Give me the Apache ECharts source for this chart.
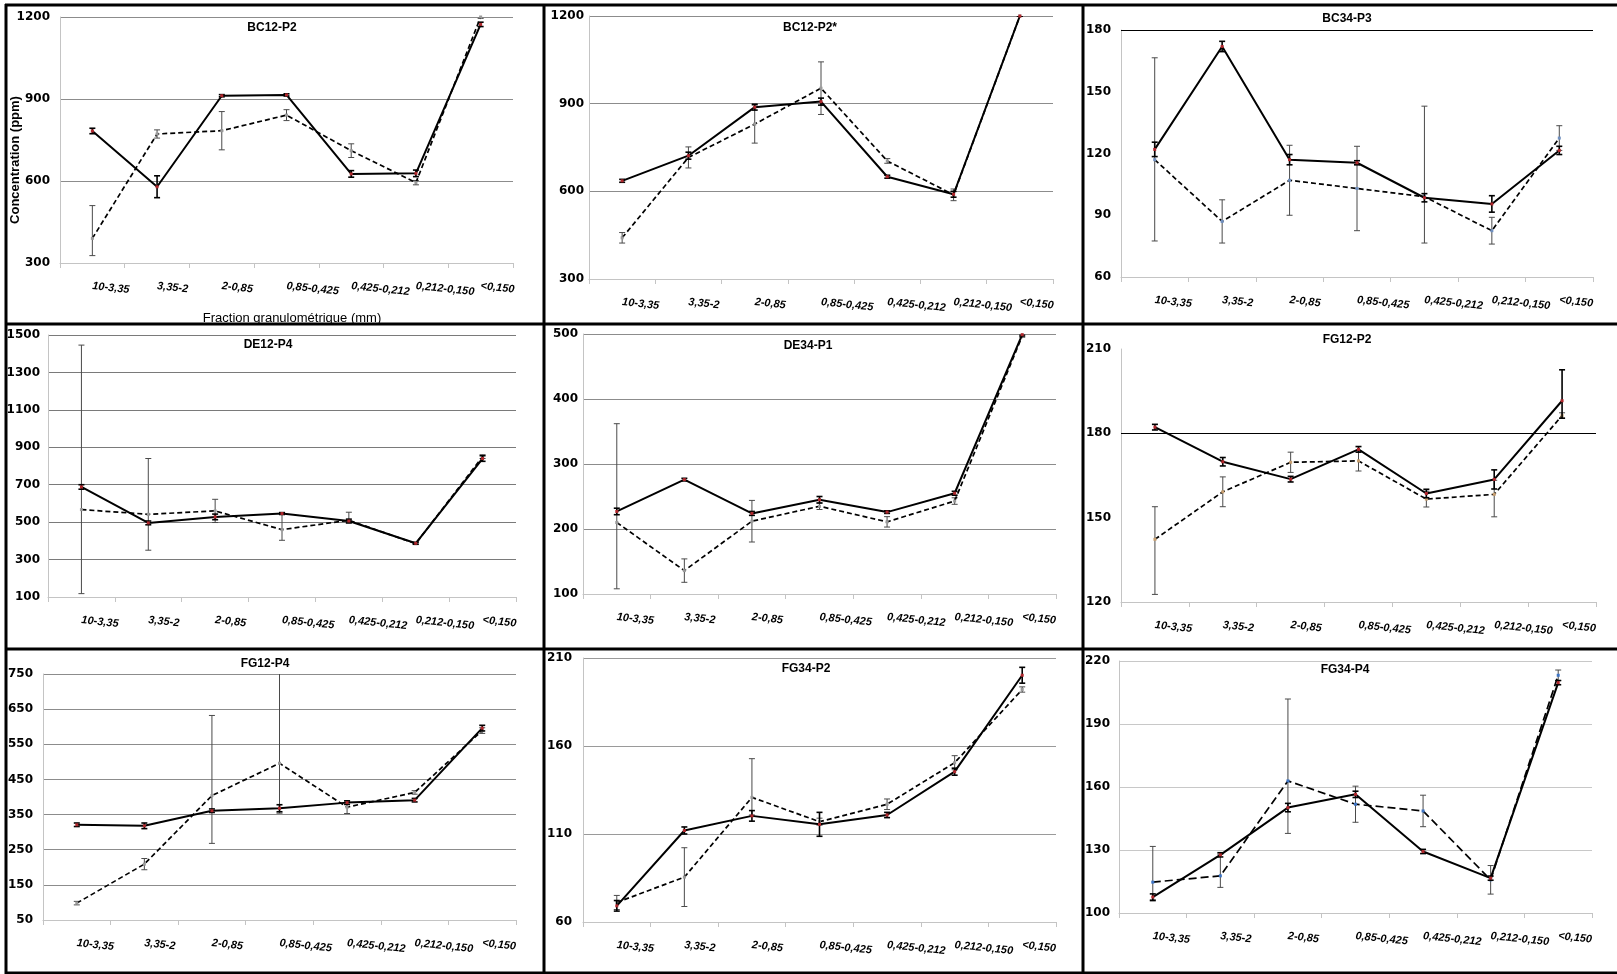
<!DOCTYPE html>
<html>
<head>
<meta charset="utf-8">
<script src="https://cdn.jsdelivr.net/npm/echarts@6/dist/echarts.min.js"></script>
<style>
  html, body { margin: 0; padding: 0; background: #fff; }
  #chart { width: 1617px; height: 974px; }
</style>
</head>
<body>
<div id="chart"></div>
<script>
// Size fractions (mm)
const categories = ['10-3,35', '3,35-2', '2-0,85', '0,85-0,425', '0,425-0,212', '0,212-0,150', '<0,150'];

// Each profile: solid series, dashed series and their error bars (half-width, or [below, above])
// Ranges are [min, max, interval] of the concentration axis (ppm)
const bc12p2Range = [300, 1200, 300];
const bc12p2Solid = [783, 579, 912, 915, 626, 628, 1173];
const bc12p2SolidErr = [10, 40, 4, 4, 12, 12, 8];
const bc12p2Dashed = [390, 772, 784, 841, 711, 594, 1200];
const bc12p2DashedErr = [[63, 120], 15, 70, 20, 25, 8, 5];

const bc12p2sRange = [300, 1200, 300];
const bc12p2sSolid = [636, 722, 888, 907, 650, 590, 1200];
const bc12p2sSolidErr = [5, 12, 10, 12, 5, 10, 0];
const bc12p2sDashed = [441, 716, 830, 953, 704, 588, 1200];
const bc12p2sDashedErr = [18, 36, 65, 90, 8, 20, 0];

const bc34p3Range = [60, 180, 30];
const bc34p3Solid = [122, 172, 117, 115.5, 98.5, 95.5, 121.5];
const bc34p3SolidErr = [3.5, 2.5, 2.5, 1, 2, 4, 2];
const bc34p3Dashed = [117, 87, 107, 103, 99, 82.5, 127.5];
const bc34p3DashedErr = [[39.5, 49.5], 10.5, 17, 20.5, [22.5, 44], 6.5, 6];

const de12p4Range = [100, 1500, 200];
const de12p4Solid = [688, 496, 528, 546, 506, 387, 840];
const de12p4SolidErr = [12, 10, 15, 5, 10, 5, 15];
const de12p4Dashed = [567, 542, 560, 460, 510, 385, 850];
const de12p4DashedErr = [[449, 879], [192, 298], 62, [57, 86], [14, 43], 5, 10];

const de34p1Range = [100, 500, 100];
const de34p1Solid = [227, 276, 224, 245, 226, 255, 499];
const de34p1SolidErr = [5, 2, 3, 5, 2, 3, 2];
const de34p1Dashed = [210, 136, 212, 235, 211, 243, 497];
const de34p1DashedErr = [[102, 152], 18, 32, 5, 8, 5, 2];

const fg12p2Range = [120, 210, 30];
const fg12p2Solid = [182.2, 169.9, 163.7, 174.3, 158.6, 163.6, 191.6];
const fg12p2SolidErr = [1, 1.5, 1, 1, 1.5, 3.4, [6.2, 11]];
const fg12p2Dashed = [142.3, 159.2, 169.7, 170.2, 156.6, 158.3, 186.3];
const fg12p2DashedErr = [[19.6, 11.6], 5.3, 3.6, 3.6, 2.8, [8, 5], 1];

const fg12p4Range = [50, 750, 100];
const fg12p4Solid = [321, 318, 361, 368, 384, 391, 596];
const fg12p4SolidErr = [5, 8, 5, 10, 5, 5, 8];
const fg12p4Dashed = [98, 209, 404, 496, 371, 413, 589];
const fg12p4DashedErr = [5, 16, [136, 228], [142, 300], 18, 5, 8];

const fg34p2Range = [60, 210, 50];
const fg34p2Solid = [69.2, 112, 120.3, 115.5, 120.8, 145.4, 200.2];
const fg34p2SolidErr = [3, 2, 3, 6.8, 1.5, 2, 4.5];
const fg34p2Dashed = [71.1, 85.5, 130.8, 117, 126.9, 150.5, 192.1];
const fg34p2DashedErr = [4, 16.7, [10, 22], 2, 3, 4, 1.5];

const fg34p4Range = [100, 220, 30];
const fg34p4Solid = [107.6, 127.7, 150.2, 156.5, 129.3, 116.6, 209.7];
const fg34p4SolidErr = [1.5, 1, 2, 1.5, 1, 1, 1];
const fg34p4Dashed = [114.7, 117.7, 162.9, 151.8, 148.6, 115.8, 213.2];
const fg34p4DashedErr = [[9, 17], [5.5, 10.3], [25, 39], 8.6, 7.5, 6.8, 2.5];

// Panel layout: plot box [left, top, width, height], title centre, label gap, grid line colour
const panels = [
  { title: 'BC12-P2', range: bc12p2Range, solid: bc12p2Solid, solidErr: bc12p2SolidErr, dashed: bc12p2Dashed, dashedErr: bc12p2DashedErr,
    box: [60, 17, 453, 246], titleAt: [272, 28], gap: 10, split: '#8c8c8c', dashMark: '#9a9a9a', dash: [5, 3] },
  { title: 'BC12-P2*', range: bc12p2sRange, solid: bc12p2sSolid, solidErr: bc12p2sSolidErr, dashed: bc12p2sDashed, dashedErr: bc12p2sDashedErr,
    box: [589, 16, 464, 263], titleAt: [810, 28], gap: 5, split: '#8c8c8c', dashMark: '#9a9a9a', dash: [5, 3] },
  { title: 'BC34-P3', range: bc34p3Range, solid: bc34p3Solid, solidErr: bc34p3SolidErr, dashed: bc34p3Dashed, dashedErr: bc34p3DashedErr,
    box: [1121, 30, 472, 247], titleAt: [1347, 19], gap: 10, split: null, refLine: 180, dashMark: '#6f8fbf', dash: [5, 3] },
  { title: 'DE12-P4', range: de12p4Range, solid: de12p4Solid, solidErr: de12p4SolidErr, dashed: de12p4Dashed, dashedErr: de12p4DashedErr,
    box: [48, 335, 468, 262], titleAt: [268, 345], gap: 8, split: '#7a7a7a', dashMark: '#9a9a9a', dash: [5, 3] },
  { title: 'DE34-P1', range: de34p1Range, solid: de34p1Solid, solidErr: de34p1SolidErr, dashed: de34p1Dashed, dashedErr: de34p1DashedErr,
    box: [583, 334, 473, 260], titleAt: [808, 346], gap: 5, split: '#8c8c8c', dashMark: '#9a9a9a', dash: [5, 3] },
  { title: 'FG12-P2', range: fg12p2Range, solid: fg12p2Solid, solidErr: fg12p2SolidErr, dashed: fg12p2Dashed, dashedErr: fg12p2DashedErr,
    box: [1121, 349, 475, 253], titleAt: [1347, 340], gap: 10, split: null, refLine: 180, dashMark: '#c9a070', dash: [5, 3] },
  { title: 'FG12-P4', range: fg12p4Range, solid: fg12p4Solid, solidErr: fg12p4SolidErr, dashed: fg12p4Dashed, dashedErr: fg12p4DashedErr,
    box: [43, 674, 473, 246], titleAt: [265, 664], gap: 10, split: '#8c8c8c', dashMark: '#9a9a9a', dash: [5, 3] },
  { title: 'FG34-P2', range: fg34p2Range, solid: fg34p2Solid, solidErr: fg34p2SolidErr, dashed: fg34p2Dashed, dashedErr: fg34p2DashedErr,
    box: [583, 658, 473, 264], titleAt: [806, 669], gap: 11, split: '#9a9a9a', dashMark: '#9a9a9a', dash: [5, 3] },
  { title: 'FG34-P4', range: fg34p4Range, solid: fg34p4Solid, solidErr: fg34p4SolidErr, dashed: fg34p4Dashed, dashedErr: fg34p4DashedErr,
    box: [1119, 661, 473, 252], titleAt: [1345, 670], gap: 9, split: '#c8c8c8', dashMark: '#3d74c4', dash: [8, 4] }
];

// [category index, lower bound, upper bound] for each error bar
function barData(values, errs) {
  return values.map((v, k) => {
    const e = errs[k];
    const down = Array.isArray(e) ? e[0] : e;
    const up = Array.isArray(e) ? e[1] : e;
    return [k, v - down, v + up];
  });
}

function errorBar(color, width) {
  return function (params, api) {
    const x = api.value(0);
    const lo = api.coord([x, api.value(1)]);
    const hi = api.coord([x, api.value(2)]);
    const cap = 3;
    const style = { stroke: color, lineWidth: width };
    return {
      type: 'group',
      children: [
        { type: 'line', shape: { x1: lo[0], y1: lo[1], x2: hi[0], y2: hi[1] }, style: style },
        { type: 'line', shape: { x1: lo[0] - cap, y1: lo[1], x2: lo[0] + cap, y2: lo[1] }, style: style },
        { type: 'line', shape: { x1: hi[0] - cap, y1: hi[1], x2: hi[0] + cap, y2: hi[1] }, style: style }
      ]
    };
  };
}

const grids = [], xAxes = [], yAxes = [], series = [], graphics = [];

panels.forEach((p, i) => {
  grids.push({ left: p.box[0], top: p.box[1], width: p.box[2], height: p.box[3], containLabel: false, outerBoundsMode: 'none' });

  xAxes.push({
    type: 'category', gridIndex: i, data: categories, boundaryGap: true,
    axisLine: { show: true, lineStyle: { color: '#c4c4c4', width: 1 } },
    axisTick: { show: true, alignWithLabel: false, inside: false, length: 5, lineStyle: { color: '#c4c4c4' } },
    axisLabel: {
      interval: 0, rotate: -6, margin: 23, color: '#000',
      fontFamily: '"Liberation Sans", Arial, sans-serif', fontSize: 11, fontWeight: 'bold', fontStyle: 'italic'
    },
    splitLine: { show: false }
  });

  yAxes.push({
    type: 'value', gridIndex: i, min: p.range[0], max: p.range[1], interval: p.range[2],
    axisLine: { show: true, lineStyle: { color: '#c4c4c4', width: 1 } },
    axisTick: { show: false },
    axisLabel: {
      margin: p.gap, color: '#000', fontFamily: '"DejaVu Sans", sans-serif', fontSize: 12, fontWeight: 'bold',
      formatter: v => String(v)
    },
    splitLine: { show: !!p.split, lineStyle: { color: p.split || '#888', width: 1 } }
  });

  series.push({
    type: 'custom', xAxisIndex: i, yAxisIndex: i, clip: true, silent: true, z: 2,
    renderItem: errorBar('#4a4a4a', 1), encode: { x: 0, y: [1, 2] },
    data: barData(p.dashed, p.dashedErr)
  });
  series.push({
    type: 'line', xAxisIndex: i, yAxisIndex: i, data: p.dashed, z: 3,
    symbol: 'rect', symbolSize: 3, showSymbol: true,
    lineStyle: { color: '#000', width: 1.7, type: p.dash },
    itemStyle: { color: p.dashMark }
  });
  series.push({
    type: 'custom', xAxisIndex: i, yAxisIndex: i, clip: true, silent: true, z: 4,
    renderItem: errorBar('#000', 1.6), encode: { x: 0, y: [1, 2] },
    data: barData(p.solid, p.solidErr)
  });
  const solidLine = {
    type: 'line', xAxisIndex: i, yAxisIndex: i, data: p.solid, z: 5,
    symbol: 'rect', symbolSize: 3, showSymbol: true,
    lineStyle: { color: '#000', width: 2 },
    itemStyle: { color: '#b0282d' }
  };
  if (p.refLine !== undefined) {
    solidLine.markLine = {
      silent: true, symbol: 'none', label: { show: false },
      lineStyle: { color: '#000', width: 1, type: 'solid' },
      data: [{ yAxis: p.refLine }]
    };
  }
  series.push(solidLine);

  graphics.push({
    type: 'text', x: p.titleAt[0], y: p.titleAt[1], z: 50,
    style: { text: p.title, fill: '#000', font: 'bold 12px "Liberation Sans", Arial, sans-serif', align: 'center', verticalAlign: 'middle' }
  });
});

// Axis titles (first panel)
graphics.push({
  type: 'text', x: 15, y: 160, rotation: Math.PI / 2, z: 50,
  style: { text: 'Concentration (ppm)', fill: '#000', font: 'bold 13px "Liberation Sans", Arial, sans-serif', align: 'center', verticalAlign: 'middle' }
});
graphics.push({
  type: 'text', x: 292, y: 318, z: 50,
  style: { text: 'Fraction granulométrique (mm)', fill: '#000', font: '13px "Liberation Sans", Arial, sans-serif', align: 'center', verticalAlign: 'middle' }
});

// Panel frames
const frameRows = [5, 324, 649, 973];
const frameCols = [6, 544, 1083];
frameRows.forEach(y => graphics.push({
  type: 'line', z: 100, shape: { x1: 5, y1: y, x2: 1617, y2: y }, style: { stroke: '#000', lineWidth: 3 }
}));
frameCols.forEach(x => graphics.push({
  type: 'line', z: 100, shape: { x1: x, y1: 4, x2: x, y2: 974 }, style: { stroke: '#000', lineWidth: 3 }
}));

const chart = echarts.init(document.getElementById('chart'), null, { renderer: 'canvas' });
chart.setOption({
  animation: false,
  backgroundColor: '#fff',
  grid: grids,
  xAxis: xAxes,
  yAxis: yAxes,
  series: series,
  graphic: graphics
});
</script>
</body>
</html>
